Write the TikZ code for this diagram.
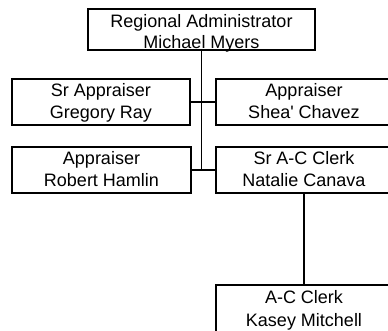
\documentclass[tikz,border=0pt]{standalone}
\usepackage{fontspec}
\setmainfont{Liberation Sans}
% two centred lines with fixed ascent above the first and depth below the last
\newcommand{\postlines}[2]{\rule{0pt}{13.5pt}#1\\#2\rule[-4pt]{0pt}{4pt}}
\begin{document}
\begin{tikzpicture}[x=1pt,y=-1pt,
  postbox/.style={draw=black, line width=2.1pt, rectangle, inner sep=0pt,
    minimum height=46pt},
  posttext/.style={inner sep=0pt, align=center,
    font=\fontsize{18}{22.5}\selectfont},
  link/.style={draw=black, line width=1.6pt}]
  \fill[white] (0,0) rectangle (388,331);
  \useasboundingbox (0,0) rectangle (388,331);
  \clip (0,0) rectangle (388,331);

  % boxes
  \node[postbox, minimum width=227pt, minimum height=41pt] (admin) at (201.5,29.5) {};
  \node[postbox, minimum width=178pt] (gray) at (101,102) {};
  \node[postbox, minimum width=176pt] (chavez) at (304,102) {};
  \node[postbox, minimum width=179pt] (hamlin) at (101.5,170) {};
  \node[postbox, minimum width=176pt] (canava) at (304,170) {};
  \node[postbox, minimum width=176pt, minimum height=60pt] (mitchell) at (304,315) {};

  % names and titles
  \node[posttext, font=\fontsize{18}{20.5}\selectfont] (admintext) at (201.5,33.5)
    {\postlines{Regional Administrator}{Michael Myers}};
  \node[posttext] (graytext) at (101,103) {\postlines{Sr Appraiser}{Gregory Ray}};
  \node[posttext] (chaveztext) at (304,103)
    {\postlines{Appraiser}{Shea\textquotesingle{} Chavez}};
  \node[posttext] (hamlintext) at (101.5,171) {\postlines{Appraiser}{Robert Hamlin}};
  \node[posttext] (canavatext) at (304,171) {\postlines{Sr A-C Clerk}{Natalie Canava}};
  \node[posttext, font=\fontsize{18}{23}\selectfont] (mitchelltext) at (304,310)
    {\postlines{A-C Clerk}{Kasey Mitchell}};

  \coordinate (trunkend) at (admin.south |- hamlin.east);

  % reporting lines
  \draw[link] (admin.south) -- (trunkend);
  \draw[link] (gray.east) -- (chavez.west);
  \draw[link] (hamlin.east) -- (canava.west);
  \draw[link] (canava.south) -- (mitchell.north);
\end{tikzpicture}
\end{document}
